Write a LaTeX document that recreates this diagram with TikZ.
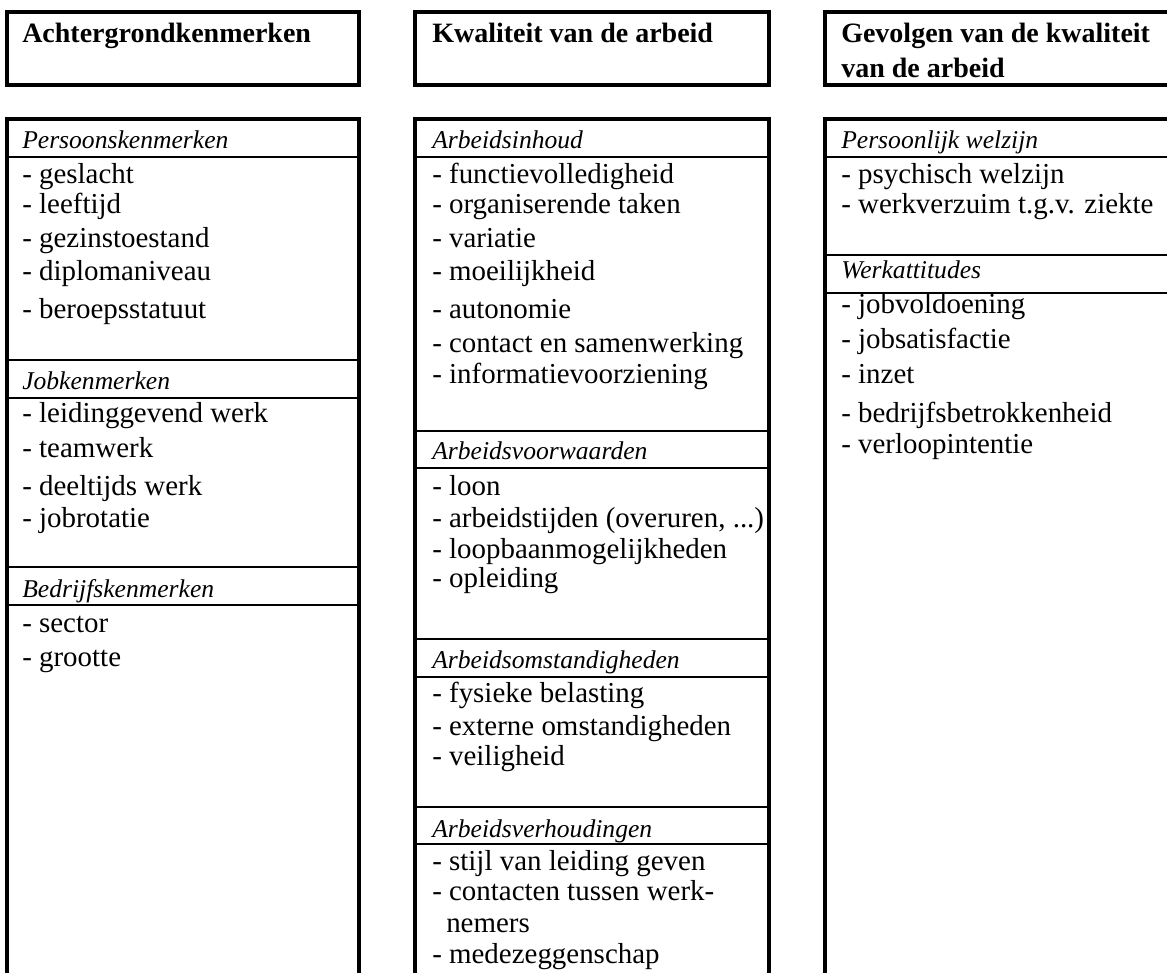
\documentclass[tikz,border=0pt]{standalone}
\usepackage{fontspec}
\setmainfont{Liberation Serif}
\begin{document}
\begin{tikzpicture}[x=0.75pt,y=-0.75pt,
  frame/.style={line width=2.4pt,line join=miter},
  sep/.style={line width=2.2pt},
  head/.style={anchor=base west,inner sep=0pt,font=\fontsize{21}{25}\selectfont\bfseries},
  cat/.style={anchor=base west,inner sep=0pt,font=\fontsize{19.2}{23}\selectfont\itshape},
  item/.style={anchor=base west,inner sep=0pt,font=\fontsize{21.7}{26}\selectfont}]
\useasboundingbox (0,0) rectangle (1167,972);
\clip (0,0) rectangle (1167,972);
% header boxes
\draw[frame] (7,12) rectangle (359,85);
\draw[frame] (415,12) rectangle (769,85);
\draw[frame] (825,12) rectangle (1195,85);
% column bodies
\draw[frame] (7,995) -- (7,119) -- (359,119) -- (359,995);
\draw[frame] (415,995) -- (415,119) -- (769,119) -- (769,995);
\draw[frame] (825,995) -- (825,119) -- (1195,119);
% separators left
\foreach \y in {157,360,398,567,605} \draw[sep] (7,\y) -- (359,\y);
% separators middle
\foreach \y in {157,431,468,639,677,807,844} \draw[sep] (415,\y) -- (769,\y);
% separators right
\foreach \y in {157,255,293} \draw[sep] (825,\y) -- (1195,\y);

% left column
\node[head] (h1) at (22,42) {Achtergrondkenmerken};
\node[cat] (c11) at (22,148) {Persoonskenmerken};
\node[item] (l1) at (22,183) {- geslacht};
\node[item] (l2) at (22,213) {- leeftijd};
\node[item] (l3) at (22,247) {- gezinstoestand};
\node[item] (l4) at (22,280) {- diplomaniveau};
\node[item] (l5) at (22,318) {- beroepsstatuut};
\node[cat] (c12) at (22,389) {Jobkenmerken};
\node[item] (l6) at (22,422) {- leidinggevend werk};
\node[item] (l7) at (22,457) {- teamwerk};
\node[item] (l8) at (22,495) {- deeltijds werk};
\node[item] (l9) at (22,527) {- jobrotatie};
\node[cat] (c13) at (22,597) {Bedrijfskenmerken};
\node[item] (l10) at (22,632) {- sector};
\node[item] (l11) at (22,666) {- grootte};

% middle column
\node[head] (h2) at (432,42) {Kwaliteit van de arbeid};
\node[cat] (c21) at (432,148) {Arbeidsinhoud};
\node[item] (m1) at (432,183) {- functievolledigheid};
\node[item] (m2) at (432,213) {- organiserende taken};
\node[item] (m3) at (432,247) {- variatie};
\node[item] (m4) at (432,280) {- moeilijkheid};
\node[item] (m5) at (432,318) {- autonomie};
\node[item] (m6) at (432,352) {- contact en samenwerking};
\node[item] (m7) at (432,383) {- informatievoorziening};
\node[cat] (c22) at (432,459) {Arbeidsvoorwaarden};
\node[item] (m8) at (432,495) {- loon};
\node[item] (m9) at (432,527) {- arbeidstijden (overuren, ...)};
\node[item] (m10) at (432,558) {- loopbaanmogelijkheden};
\node[item] (m11) at (432,587) {- opleiding};
\node[cat] (c23) at (432,668) {Arbeidsomstandigheden};
\node[item] (m12) at (432,702) {- fysieke belasting};
\node[item] (m13) at (432,735) {- externe omstandigheden};
\node[item] (m14) at (432,765) {- veiligheid};
\node[cat] (c24) at (432,837) {Arbeidsverhoudingen};
\node[item] (m15) at (432,870) {- stijl van leiding geven};
\node[item] (m16) at (432,900) {- contacten tussen werk-};
\node[item] (m17) at (446,932) {nemers};
\node[item] (m18) at (432,963) {- medezeggenschap};

% right column
\node[head] (h3) at (841,42) {Gevolgen van de kwaliteit};
\node[head] (h3b) at (841,77) {van de arbeid};
\node[cat] (c31) at (841,148) {Persoonlijk welzijn};
\node[item] (r1) at (841,183) {- psychisch welzijn};
\node[item] (r2) at (841,213) {- werkverzuim t.g.v. ziekte};
\node[cat] (c32) at (841,278) {Werkattitudes};
\node[item] (r3) at (841,313) {- jobvoldoening};
\node[item] (r4) at (841,348) {- jobsatisfactie};
\node[item] (r5) at (841,383) {- inzet};
\node[item] (r6) at (841,422) {- bedrijfsbetrokkenheid};
\node[item] (r7) at (841,453) {- verloopintentie};
\end{tikzpicture}
\end{document}
